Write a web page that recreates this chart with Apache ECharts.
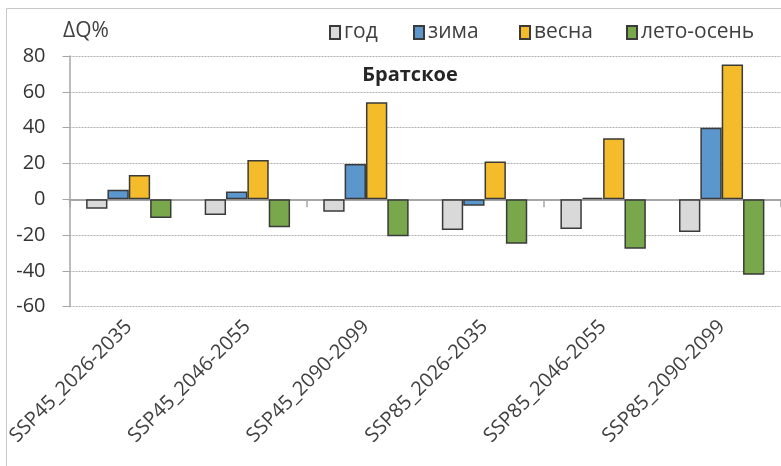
<!DOCTYPE html>
<html>
<head>
<meta charset="utf-8">
<script src="https://cdn.jsdelivr.net/npm/echarts@6/dist/echarts.min.js"></script>
<style>
  html, body { margin: 0; padding: 0; background: #fff; }
  #chart { width: 781px; height: 466px; }
</style>
</head>
<body>
<div id="chart"></div>
<script>
// данные
const categories = ['SSP45_2026-2035', 'SSP45_2046-2055', 'SSP45_2090-2099', 'SSP85_2026-2035', 'SSP85_2046-2055', 'SSP85_2090-2099']
const seriesNames = ['год', 'зима', 'весна', 'лето-осень']
const god = [-5.3, -8.8, -7, -17.1, -16.6, -18.3]
const zima = [5.3, 4.4, 19.7, -3.6, 0.8, 40]
const vesna = [13.6, 21.9, 54.2, 21.1, 34, 75.2]
const leto = [-10.5, -15.6, -20.6, -24.9, -27.6, -42.2]
const yTicks = { min: -60, max: 80, step: 20 }

const colors = ['#d9d9d9', '#5b96cc', '#f4bb2a', '#78a84b']
const legendLeft = [324, 408, 514, 621]
const font = '"Open Sans", sans-serif'

const chart = echarts.init(document.getElementById('chart'))

const makeBar = (name, data, i) => ({
  name,
  type: 'bar',
  data,
  xAxisIndex: 0,
  barGap: '0%',
  barCategoryGap: '28%',
  itemStyle: {
    color: colors[i],
    borderColor: '#3a3a3a',
    borderWidth: 1.5
  },
  emphasis: { disabled: true }
})

// отдельная легенда на каждую серию, чтобы выставить позиции как на оригинале
const makeLegend = (name, i) => ({
  data: [name],
  left: legendLeft[i],
  top: 17,
  icon: 'rect',
  itemWidth: 10,
  itemHeight: 13,
  textStyle: {
    fontFamily: font,
    fontSize: 21,
    color: '#404040',
    padding: [0, 0, 0, -1]
  }
})

const option = {
  animation: false,
  grid: {
    left: 69.5,
    top: 56,
    width: 713,
    height: 250.7
  },
  legend: seriesNames.map(makeLegend),
  xAxis: [
    {
      type: 'category',
      data: categories,
      axisLine: { onZero: true, lineStyle: { color: '#a6a6a6', width: 2 } },
      axisTick: { show: true, length: 8, lineStyle: { color: '#a6a6a6', width: 1.5 } },
      axisLabel: { show: false },
      splitLine: { show: false }
    },
    {
      type: 'category',
      data: categories,
      position: 'bottom',
      axisLine: { show: false },
      axisTick: { show: false },
      axisLabel: {
        rotate: 45,
        margin: 17,
        fontFamily: font,
        fontSize: 20,
        color: '#404040'
      }
    }
  ],
  yAxis: {
    type: 'value',
    min: yTicks.min,
    max: yTicks.max,
    interval: yTicks.step,
    axisLine: { show: true, lineStyle: { color: '#a6a6a6', width: 1.5 } },
    axisTick: { show: true, length: 7, lineStyle: { color: '#a6a6a6' } },
    axisLabel: {
      margin: 24,
      fontFamily: font,
      fontSize: 20,
      color: '#333'
    },
    splitLine: {
      lineStyle: { color: '#b0b0b0', type: [2, 1], width: 1 }
    }
  },
  series: [
    makeBar(seriesNames[0], god, 0),
    makeBar(seriesNames[1], zima, 1),
    makeBar(seriesNames[2], vesna, 2),
    makeBar(seriesNames[3], leto, 3)
  ],
  graphic: [
    {
      type: 'rect',
      silent: true,
      shape: { x: 6.5, y: 8.5, width: 900, height: 600 },
      style: { fill: 'none', stroke: '#c8c8c8', lineWidth: 1 }
    },
    {
      type: 'text',
      silent: true,
      style: {
        text: 'ΔQ%',
        x: 63,
        y: 31,
        textVerticalAlign: 'middle',
        font: '21px ' + font,
        fill: '#404040'
      }
    },
    {
      type: 'text',
      silent: true,
      style: {
        text: 'Братское',
        x: 410,
        y: 75,
        textAlign: 'center',
        textVerticalAlign: 'middle',
        font: 'bold 20px ' + font,
        fill: '#262626'
      }
    }
  ]
}

chart.setOption(option)
</script>
</body>
</html>
